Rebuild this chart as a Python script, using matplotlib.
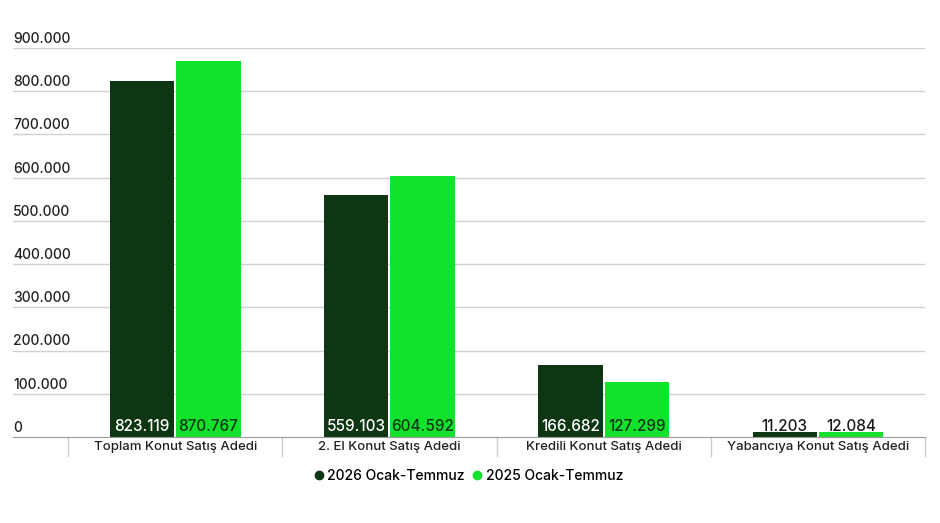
import numpy as np
import matplotlib.pyplot as plt
from matplotlib.lines import Line2D

plt.rcParams['font.family'] = ['Inter', 'DejaVu Sans']
plt.rcParams['font.weight'] = 'medium'

# data
categories = ["Toplam Konut Satış Adedi", "2. El Konut Satış Adedi",
              "Kredili Konut Satış Adedi", "Yabancıya Konut Satış Adedi"]
s2026 = [823119, 559103, 166682, 11203]
s2025 = [870767, 604592, 127299, 12084]
series_names = ["2026 Ocak-Temmuz", "2025 Ocak-Temmuz"]
yticks = np.arange(0, 900001, 100000)

dark = "#0e3612"
bright = "#12e22c"

def fmt(v):
    return f"{v:,}".replace(",", ".")

fig = plt.figure(figsize=(9.4, 5.23), dpi=100)
ax = fig.add_axes([13/940, 86/523, 912/940, (437-48)/523])

x = np.arange(len(categories))
w = 0.30
gap = 0.005
b1 = ax.bar(x - w/2 - gap, s2026, w, color=dark, zorder=3)
b2 = ax.bar(x + w/2 + gap, s2025, w, color=bright, zorder=3)

ax.set_xlim(-0.757, 3.5)
ax.set_ylim(0, 900000)

# gridlines and y labels drawn above each line
for t in yticks:
    if t > 0:
        ax.axhline(t, color="#d0d0d0", lw=1, zorder=1)
    ax.annotate(fmt(t) if t else "0", xy=(0, t), xycoords=("axes fraction", "data"),
                xytext=(0, 1.5), textcoords="offset points", ha="left", va="bottom",
                fontsize=10, color="#222222")
ax.set_yticks([])

# category separators below axis
for s in np.arange(-0.5, 3.6, 1):
    ax.plot([s, s], [0, -0.05], transform=ax.get_xaxis_transform(),
            color="#cccccc", lw=1, clip_on=False)
ax.set_xticks(x)
ax.set_xticklabels(categories, fontsize=9.5, color="#222222")
ax.tick_params(axis="x", length=0, pad=3)

for sp in ["top", "right", "left"]:
    ax.spines[sp].set_visible(False)
ax.spines["bottom"].set_color("#999999")
ax.spines["bottom"].set_zorder(4)

# value labels near base of bars
for bars, vals, inner in [(b1, s2026, "white"), (b2, s2025, "#0e3612")]:
    for rect, v in zip(bars, vals):
        col = inner if v > 50000 else "#1a1a1a"
        ax.annotate(fmt(v), xy=(rect.get_x() + rect.get_width()/2, 0),
                    xytext=(0, 2), textcoords="offset points",
                    ha="center", va="bottom", fontsize=11, color=col, zorder=5)

handles = [Line2D([], [], marker="o", ls="", color=dark, markersize=6),
           Line2D([], [], marker="o", ls="", color=bright, markersize=6)]
fig.legend(handles, series_names, loc="center", bbox_to_anchor=(467/940, 1-476/523),
           ncol=2, frameon=False, fontsize=10, handletextpad=0.0, columnspacing=0.3,
           handlelength=1.2)

fig.savefig("out.png", dpi=100, facecolor="white")
